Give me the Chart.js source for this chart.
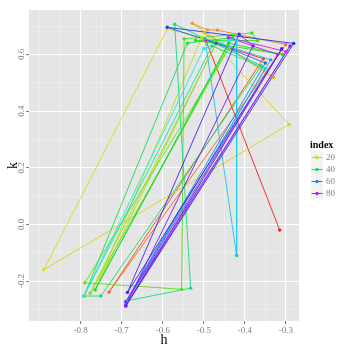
<!DOCTYPE html>
<html lang="en">
<head>
    <meta charset="UTF-8">
    <title>h vs k path</title>
    <style>
        html, body { margin: 0; padding: 0; background: #fff; }
        #chart-container { width: 350px; height: 350px; }
    </style>
</head>
<body>
    <div id="chart-container">
        <canvas id="myChart" width="350" height="350"></canvas>
    </div>
    <script src="https://cdn.jsdelivr.net/npm/chart.js"></script>
    <script>
        // path data, in order of index
        const indexVals = [1,3,5,7,9,10,11,12,14,16,17,18,19,20,22,24,25,27,28,29,30,31,32,33,34,35,37,38,40,41,42,43,44,45,46,47,48,49,50,52,54,55,56,58,60,62,64,66,67,69,70,72,73,75,76,78,79,81,82,84];
        const hVals = [-0.315,-0.495,-0.355,-0.731,-0.300,-0.467,-0.491,-0.528,-0.330,-0.499,-0.292,-0.890,-0.589,-0.505,-0.765,-0.470,-0.777,-0.440,-0.790,-0.554,-0.548,-0.383,-0.369,-0.520,-0.308,-0.440,-0.765,-0.430,-0.540,-0.792,-0.751,-0.360,-0.571,-0.532,-0.688,-0.350,-0.480,-0.792,-0.500,-0.440,-0.420,-0.420,-0.497,-0.337,-0.690,-0.350,-0.470,-0.589,-0.281,-0.690,-0.310,-0.686,-0.414,-0.380,-0.690,-0.290,-0.690,-0.320,-0.440,-0.300];
        const kVals = [-0.020,0.650,0.585,-0.239,0.635,0.686,0.687,0.710,0.519,0.676,0.353,-0.160,0.690,0.660,-0.231,0.640,-0.243,0.620,-0.206,-0.229,0.655,0.676,0.649,0.650,0.600,0.640,-0.231,0.660,0.640,-0.253,-0.253,0.560,0.707,-0.225,-0.270,0.550,0.630,-0.253,0.620,0.650,0.650,-0.110,0.655,0.581,-0.272,0.570,0.640,0.696,0.639,-0.288,0.620,-0.240,0.672,0.630,-0.285,0.630,-0.275,0.600,0.660,0.610];
        const legendBreaks = [20, 40, 60, 80];
        const xTicks = [-0.8, -0.7, -0.6, -0.5, -0.4, -0.3];
        const yTicks = [0.6, 0.4, 0.2, 0.0, -0.2];

        const idxMin = 1, idxMax = 85;
        function idxColor(v) {
            const hue = 300 * (v - idxMin) / (idxMax - idxMin);
            // yellows/greens a touch darker, like the reference
            const light = (hue > 40 && hue < 170) ? 47 : 52;
            return 'hsl(' + hue.toFixed(0) + ', 85%, ' + light + '%)';
        }

        const points = hVals.map((h, i) => ({ x: h, y: kVals[i] }));
        const pointColors = indexVals.map(idxColor);

        const serif = "'Liberation Serif', 'DejaVu Serif', serif";
        const near = (list, v) => list.some(t => Math.abs(t - v) < 1e-6);

        // grey panel + rotated y labels + legend
        const ggPlugin = {
            id: 'gg',
            beforeDraw(chart) {
                const a = chart.chartArea, c = chart.ctx;
                c.save();
                c.fillStyle = '#E5E5E5';
                c.fillRect(a.left, a.top, a.right - a.left, a.bottom - a.top);
                c.restore();
            },
            afterDraw(chart) {
                const c = chart.ctx, y = chart.scales.y;
                c.save();
                c.fillStyle = '#7F7F7F';
                c.font = '9px ' + serif;
                c.textAlign = 'center';
                c.textBaseline = 'middle';
                yTicks.forEach(v => {
                    c.save();
                    c.translate(21.5, y.getPixelForValue(v));
                    c.rotate(-Math.PI / 2);
                    c.fillText(v.toFixed(1), 0, 0);
                    c.restore();
                });
                // legend
                c.fillStyle = '#000';
                c.font = 'bold 10px ' + serif;
                c.textAlign = 'left';
                c.fillText('index', 310, 145);
                legendBreaks.forEach((b, i) => {
                    const cy = 157.5 + i * 12;
                    c.fillStyle = '#F2F2F2';
                    c.fillRect(311, cy - 6, 12, 12);
                    c.strokeStyle = idxColor(b);
                    c.lineWidth = 1;
                    c.beginPath();
                    c.moveTo(311.5, cy);
                    c.lineTo(322.5, cy);
                    c.stroke();
                    c.fillStyle = idxColor(b);
                    c.beginPath();
                    c.arc(317, cy, 1.7, 0, Math.PI * 2);
                    c.fill();
                    c.fillStyle = '#7F7F7F';
                    c.font = '9px ' + serif;
                    c.fillText(String(b), 326, cy);
                });
                c.restore();
            }
        };

        const ctx = document.getElementById('myChart').getContext('2d');
        new Chart(ctx, {
            type: 'scatter',
            data: {
                datasets: [{
                    label: 'index',
                    data: points,
                    showLine: true,
                    borderWidth: 0.9,
                    pointRadius: 1.7,
                    pointBorderWidth: 0,
                    pointBackgroundColor: pointColors,
                    pointBorderColor: pointColors,
                    segment: {
                        borderColor: s => pointColors[s.p0DataIndex]
                    }
                }]
            },
            plugins: [ggPlugin],
            options: {
                responsive: false,
                animation: false,
                layout: { padding: { top: 10, right: 51, left: 0, bottom: 0 } },
                plugins: {
                    legend: { display: false },
                    tooltip: { enabled: false }
                },
                scales: {
                    x: {
                        min: -0.926,
                        max: -0.268,
                        border: { display: false },
                        afterFit: s => { s.height = 29; },
                        grid: {
                            color: c => near(xTicks, c.tick.value) ? '#FFFFFF' : '#F2F2F2',
                            lineWidth: c => near(xTicks, c.tick.value) ? 1.1 : 0.5,
                            tickColor: c => near(xTicks, c.tick.value) ? '#7F7F7F' : 'rgba(0,0,0,0)',
                            tickLength: 3
                        },
                        ticks: {
                            stepSize: 0.05,
                            includeBounds: false,
                            autoSkip: false,
                            maxRotation: 0,
                            padding: 1,
                            color: '#7F7F7F',
                            font: { family: serif, size: 9 },
                            callback: v => near(xTicks, v) ? v.toFixed(1) : ''
                        },
                        title: {
                            display: true,
                            text: 'h',
                            color: '#000',
                            font: { family: serif, size: 14 },
                            padding: { top: 0, bottom: 1 }
                        }
                    },
                    y: {
                        min: -0.341,
                        max: 0.757,
                        border: { display: false },
                        afterFit: s => { s.width = 29; },
                        grid: {
                            color: c => near(yTicks, c.tick.value) ? '#FFFFFF' : '#F2F2F2',
                            lineWidth: c => near(yTicks, c.tick.value) ? 1.1 : 0.5,
                            tickColor: c => near(yTicks, c.tick.value) ? '#7F7F7F' : 'rgba(0,0,0,0)',
                            tickLength: 3
                        },
                        ticks: {
                            stepSize: 0.1,
                            includeBounds: false,
                            autoSkip: false,
                            display: false
                        },
                        title: {
                            display: true,
                            text: 'k',
                            color: '#000',
                            font: { family: serif, size: 14 },
                            padding: { top: 5, bottom: 0 }
                        }
                    }
                }
            }
        });
    </script>
</body>
</html>
